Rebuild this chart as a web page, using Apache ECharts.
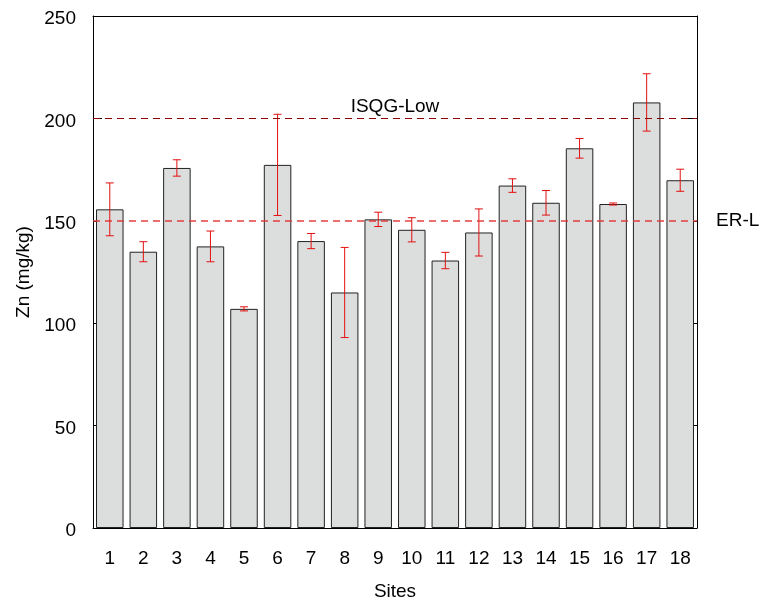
<!DOCTYPE html>
<html>
<head>
<meta charset="utf-8">
<script src="https://cdn.jsdelivr.net/npm/echarts@6/dist/echarts.min.js"></script>
<style>html,body{margin:0;padding:0;background:#fff;}#chart{width:762px;height:601px;}</style>
</head>
<body>
<div id="chart"></div>
<script>
const sites = ['1','2','3','4','5','6','7','8','9','10','11','12','13','14','15','16','17','18'];
const znMean = [155.6, 134.9, 175.8, 137.5, 107.0, 177.3, 140.1, 115.0, 150.7, 145.6, 130.6, 144.3, 167.2, 158.8, 185.4, 158.2, 207.8, 169.8];
const znSD = [12.9, 4.9, 4.0, 7.5, 1.0, 24.7, 3.7, 22.0, 3.5, 5.9, 4.0, 11.5, 3.3, 6.0, 4.8, 0.5, 14.0, 5.4];
const isqgLow = 200;
const erL = 150;

const font = 'Liberation Sans, Arial, sans-serif';
const errData = sites.map((s, i) => [i, znMean[i] - znSD[i], znMean[i] + znSD[i]]);

const chart = echarts.init(document.getElementById('chart'));
chart.setOption({
  animation: false,
  backgroundColor: '#fff',
  textStyle: { fontFamily: font, color: '#000' },
  grid: { left: 93, right: 65, top: 16, bottom: 73, containLabel: false, outerBoundsMode: 'none' },
  xAxis: [{
    type: 'category', data: sites, position: 'bottom',
    name: 'Sites', nameLocation: 'middle', nameGap: 54,
    nameTextStyle: { fontSize: 19, color: '#000', fontFamily: font },
    axisLine: { onZero: false, lineStyle: { color: '#000', width: 1 } },
    axisTick: { inside: true, length: 5, lineStyle: { color: '#000' } },
    axisLabel: { fontSize: 19, color: '#000', margin: 21, fontFamily: font }
  }, {
    type: 'category', data: sites, position: 'top',
    axisLine: { onZero: false, lineStyle: { color: '#000', width: 1 } },
    axisTick: { inside: true, length: 5, lineStyle: { color: '#000' } },
    axisLabel: { show: false }
  }],
  yAxis: [{
    type: 'value', min: 0, max: 250, interval: 50, position: 'left',
    name: 'Zn (mg/kg)', nameLocation: 'middle', nameGap: 57,
    nameTextStyle: { fontSize: 19, color: '#000', fontFamily: font },
    axisLine: { show: true, onZero: false, lineStyle: { color: '#000', width: 1 } },
    axisTick: { show: true, inside: true, length: 9, lineStyle: { color: '#000' } },
    axisLabel: {
      fontSize: 19, color: '#000', margin: 17, fontFamily: font,
      formatter: '{a|{value}}',
      rich: { a: { fontSize: 19, color: '#000', fontFamily: font, padding: [6, 0, 0, 0] } }
    },
    splitLine: { show: false }
  }, {
    type: 'value', min: 0, max: 250, interval: 50, position: 'right',
    axisLine: { show: true, onZero: false, lineStyle: { color: '#000', width: 1 } },
    axisTick: { show: true, inside: true, length: 9, lineStyle: { color: '#000' } },
    axisLabel: { show: false },
    splitLine: { show: false }
  }],
  series: [{
    type: 'bar',
    data: znMean,
    xAxisIndex: 0, yAxisIndex: 0,
    barCategoryGap: '18%',
    z: 2,
    itemStyle: { color: '#dcdddd', borderColor: '#222', borderWidth: 1 }
  }, {
    type: 'custom',
    xAxisIndex: 0, yAxisIndex: 0,
    z: 4,
    data: errData,
    renderItem: function (params, api) {
      const x = api.value(0);
      const lo = api.coord([x, api.value(1)]);
      const hi = api.coord([x, api.value(2)]);
      const hw = 4;
      const st = { stroke: '#e31010', lineWidth: 1 };
      return {
        type: 'group',
        children: [
          { type: 'line', shape: { x1: hi[0], y1: hi[1], x2: lo[0], y2: lo[1] }, style: st },
          { type: 'line', shape: { x1: hi[0] - hw, y1: hi[1], x2: hi[0] + hw, y2: hi[1] }, style: st },
          { type: 'line', shape: { x1: lo[0] - hw, y1: lo[1], x2: lo[0] + hw, y2: lo[1] }, style: st }
        ]
      };
    },
    markLine: {
      silent: true, symbol: 'none', z: 5,
      data: [{
        yAxis: isqgLow,
        lineStyle: { color: '#8b0000', type: [7, 5], width: 1 },
        label: { show: true, position: 'insideMiddleTop', formatter: 'ISQG-Low', fontSize: 19, color: '#000', fontFamily: font, distance: 2 }
      }, {
        yAxis: erL,
        lineStyle: { color: 'rgba(225,50,50,0.7)', type: [7, 5], width: 2 },
        label: { show: true, position: 'end', formatter: 'ER-L', fontSize: 19, color: '#000', fontFamily: font, distance: 19 }
      }]
    }
  }]
});
</script>
</body>
</html>
